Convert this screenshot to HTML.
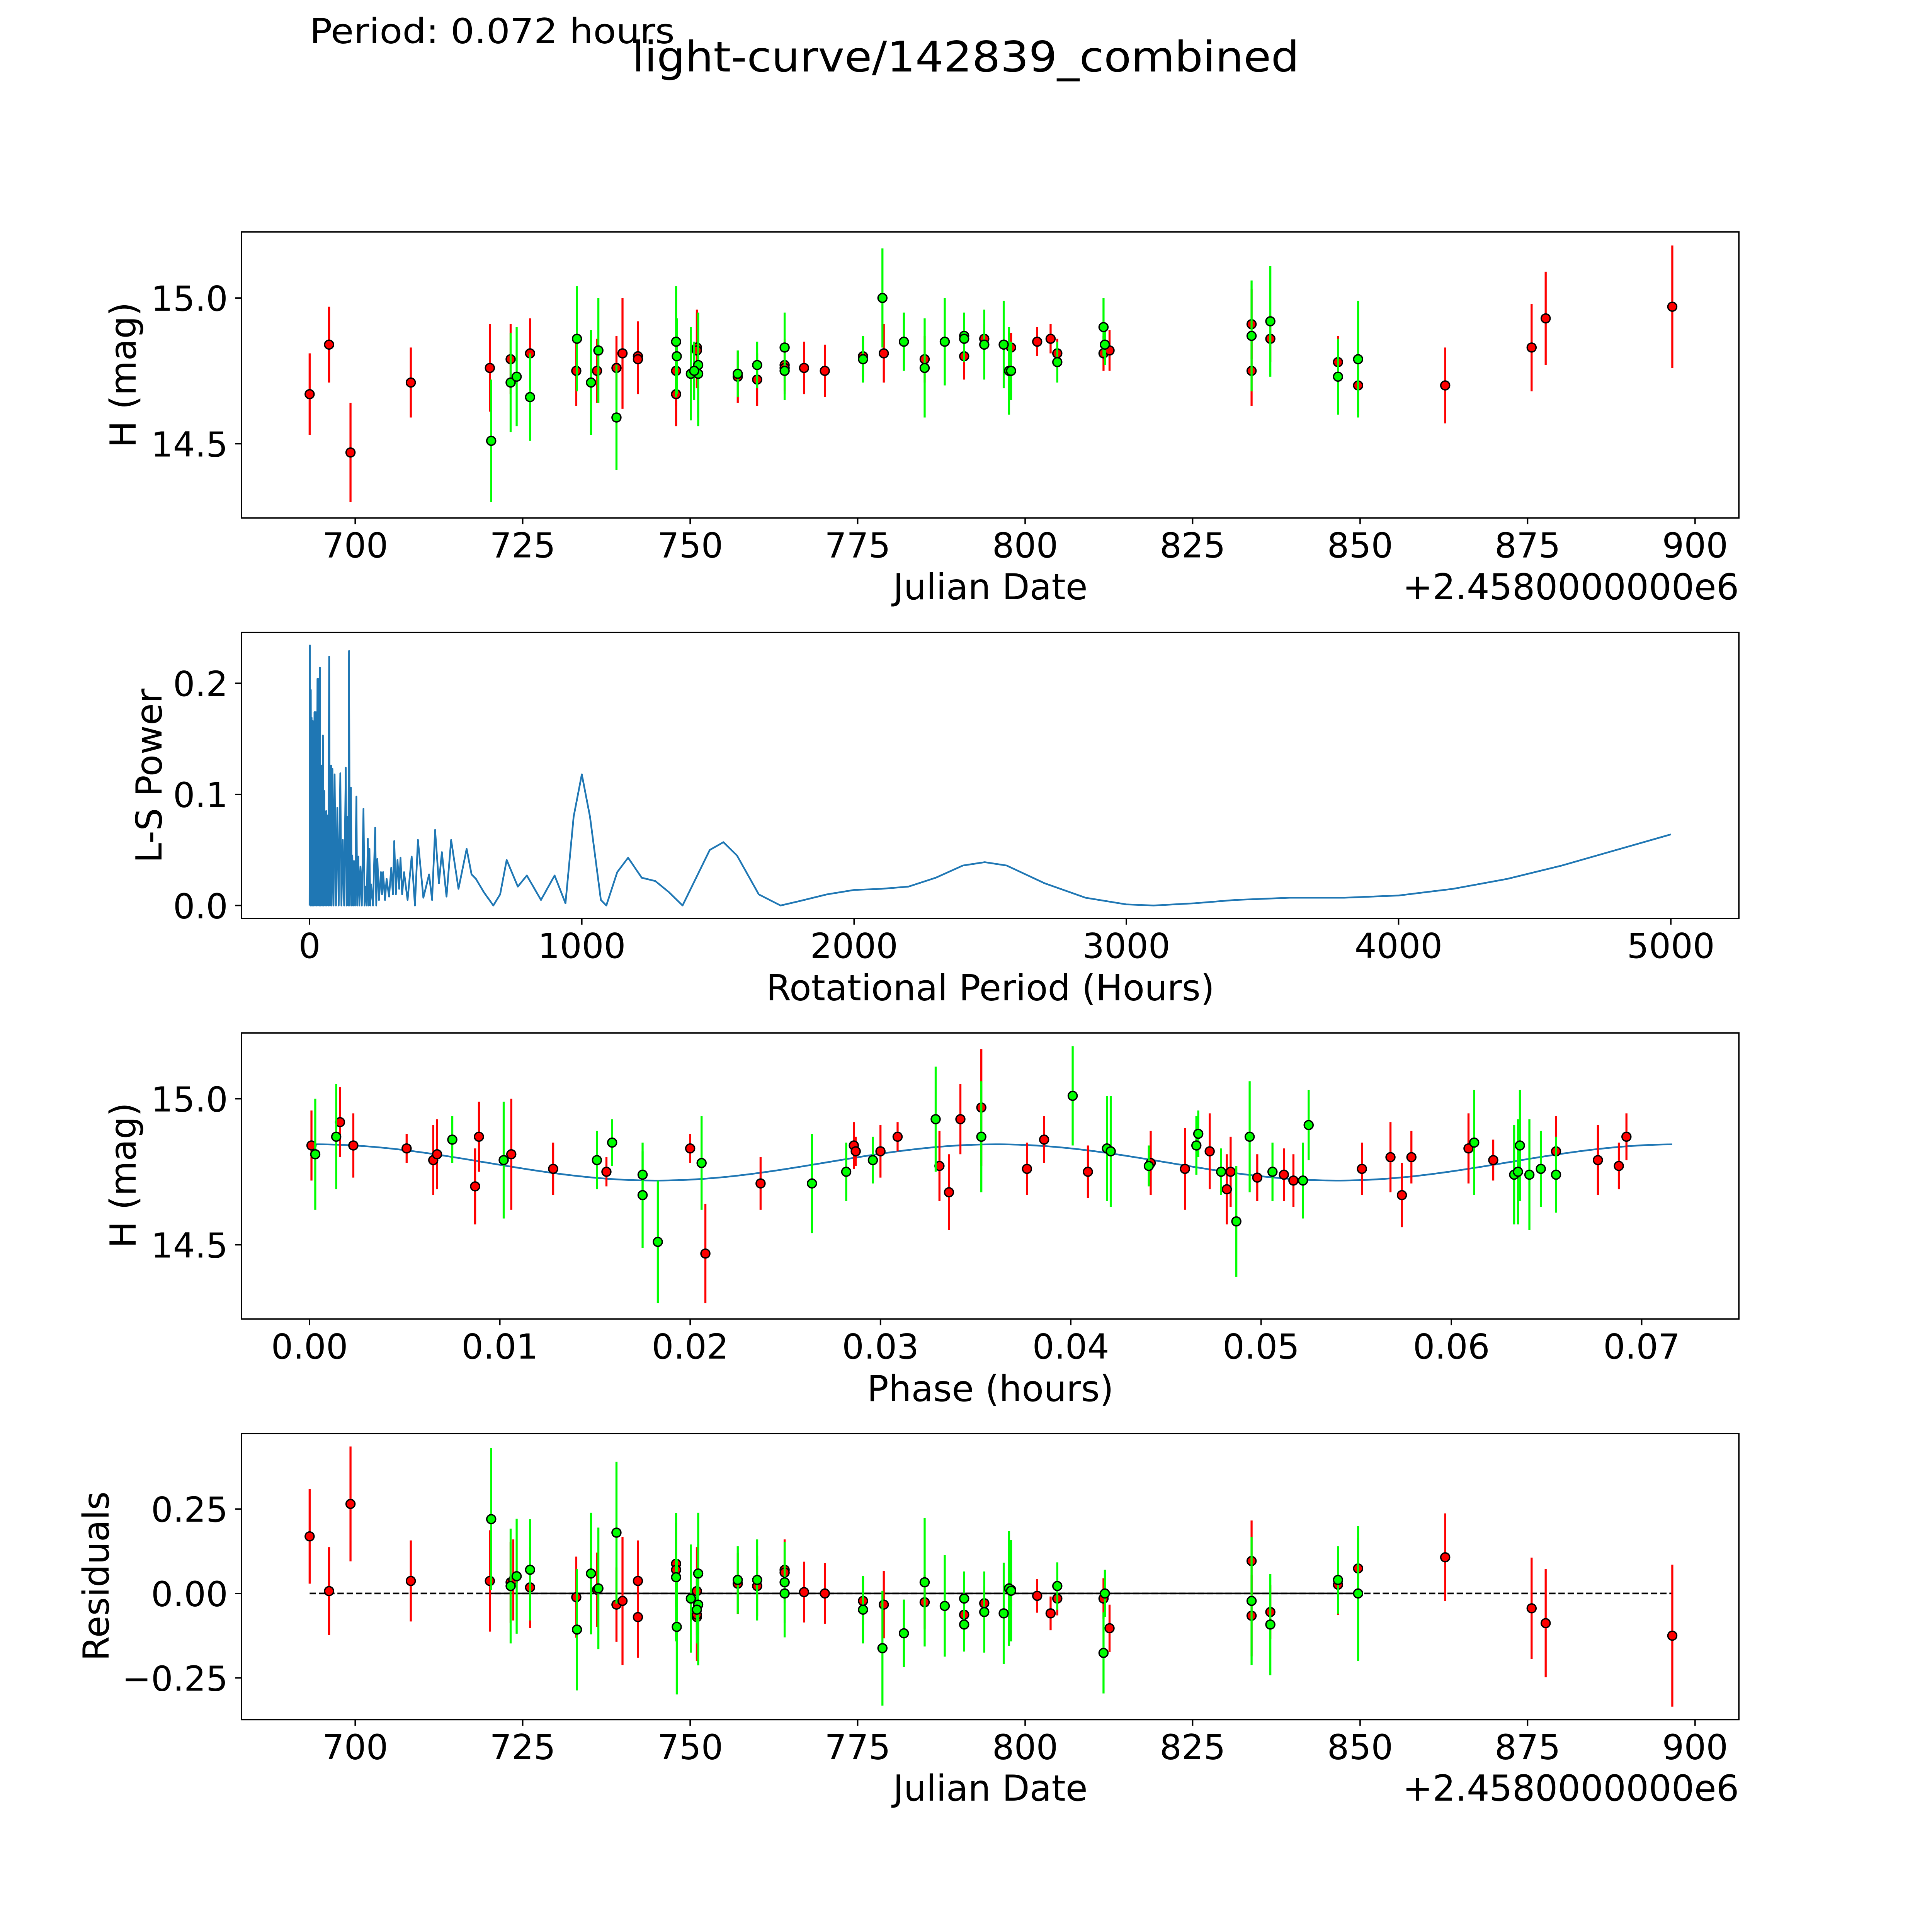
<!DOCTYPE html>
<html>
<head>
<meta charset="utf-8">
<style>
html,body{margin:0;padding:0;background:#fff;overflow:hidden;width:100vw;height:100vh;}
svg{display:block;position:fixed;left:0;top:0;width:100vw;height:100vh;}
text{font-family:"DejaVu Sans","Liberation Sans",sans-serif;fill:#000;}
</style>
</head>
<body>
<svg id="fig" xmlns="http://www.w3.org/2000/svg" viewBox="0 0 1566.5 1566.5" preserveAspectRatio="none">
<rect x="0" y="0" width="1566.5" height="1566.5" fill="#fff"/>
<text x="251" y="35" font-size="28" textLength="296" lengthAdjust="spacingAndGlyphs">Period: 0.072 hours</text>
<text x="783" y="58" font-size="34" text-anchor="middle" textLength="541" lengthAdjust="spacingAndGlyphs">light-curve/142839_combined</text>

<text x="803" y="486" font-size="29" text-anchor="middle">Julian Date</text>
<text x="1410" y="486" font-size="29" text-anchor="end">+2.4580000000e6</text>
<text transform="translate(110,304) rotate(-90)" font-size="29" text-anchor="middle">H (mag)</text>

<text x="803" y="811" font-size="29" text-anchor="middle">Rotational Period (Hours)</text>
<text transform="translate(131,629) rotate(-90)" font-size="29" text-anchor="middle">L-S Power</text>

<text x="803" y="1136" font-size="29" text-anchor="middle">Phase (hours)</text>
<text transform="translate(110,953) rotate(-90)" font-size="29" text-anchor="middle">H (mag)</text>

<text x="803" y="1460" font-size="29" text-anchor="middle">Julian Date</text>
<text x="1410" y="1460" font-size="29" text-anchor="end">+2.4580000000e6</text>
<text transform="translate(88,1278) rotate(-90)" font-size="29" text-anchor="middle">Residuals</text>
</svg>
<script>
// ---------- DATA ----------
const topRedDate = [693.2,696.1,699.3,708.3,720.1,723.2,726.1,733.0,736.1,739.0,739.9,742.2,742.2,747.9,747.9,751.0,751.0,757.1,760.0,764.1,764.1,767.0,770.1,775.8,778.9,785.0,790.9,793.9,797.9,801.8,803.8,804.8,811.7,812.6,833.8,833.8,836.6,846.7,849.7,862.7,875.6,877.7,896.6];
const topRedMag = [14.67,14.84,14.47,14.71,14.76,14.79,14.81,14.75,14.75,14.76,14.81,14.80,14.79,14.75,14.67,14.83,14.82,14.73,14.72,14.77,14.76,14.76,14.75,14.80,14.81,14.79,14.80,14.86,14.83,14.85,14.86,14.81,14.81,14.82,14.91,14.75,14.86,14.78,14.70,14.70,14.83,14.93,14.97];
const topRedErr = [0.14,0.13,0.17,0.12,0.15,0.12,0.12,0.12,0.11,0.11,0.19,0.12,0.12,0.12,0.11,0.13,0.13,0.09,0.09,0.09,0.09,0.09,0.09,0.07,0.10,0.08,0.08,0.05,0.05,0.05,0.05,0.05,0.06,0.07,0.12,0.12,0.08,0.09,0.09,0.13,0.15,0.16,0.21];
const topGreenDate = [720.3,723.2,724.1,726.1,733.1,735.2,736.3,739.0,747.9,748.0,750.1,751.2,751.2,750.6,757.1,760.0,764.1,764.1,775.8,778.7,781.9,785.0,788.0,790.9,790.9,793.9,796.8,797.6,797.9,804.8,811.7,811.9,833.8,836.6,846.7,849.7];
const topGreenMag = [14.51,14.71,14.73,14.66,14.86,14.71,14.82,14.59,14.85,14.80,14.74,14.77,14.74,14.75,14.74,14.77,14.83,14.75,14.79,15.00,14.85,14.76,14.85,14.87,14.86,14.84,14.84,14.75,14.75,14.78,14.90,14.84,14.87,14.92,14.73,14.79];
const topGreenErr = [0.21,0.17,0.17,0.15,0.18,0.18,0.18,0.18,0.19,0.13,0.16,0.18,0.18,0.10,0.08,0.08,0.12,0.10,0.08,0.17,0.10,0.17,0.15,0.08,0.08,0.12,0.15,0.15,0.10,0.07,0.10,0.07,0.19,0.19,0.13,0.20];

const lsPeriod = [0,1.5,3,4.5,6,7.5,10,12,15,18,20,23,26,29,31,34,36,38,41,44,46,49,51,54,57,61,63,66,69,72,75,79,81,84,88,92,97,102,107,113,117,122,127,133,136,139,142,145,148,152,155,157,160,163,167,172,175,179,183,187,192,198,202,206,210,214,217,220,223,226,233,241,245,249,255,262,266,270,277,283,292,300,306,311,317,323,329,334,340,347,360,375,387,398,418,439,450,461,475,486,503,520,547,577,595,611,640,675,700,724,765,798,850,900,940,970,1000,1030,1070,1090,1130,1170,1220,1270,1320,1370,1420,1470,1520,1570,1650,1730,1800,1900,2000,2100,2200,2300,2400,2480,2560,2700,2850,3000,3100,3250,3400,3600,3800,4000,4200,4400,4600,4800,5000];
const lsPower = [0,0.234,0,0.194,0,0.169,0,0.166,0,0.174,0,0.174,0,0.204,0,0.204,0,0.214,0,0.126,0,0.153,0,0.103,0,0.085,0,0.081,0,0.224,0,0.126,0,0.123,0,0.118,0,0.088,0,0.119,0,0.059,0,0.124,0,0.080,0,0.229,0,0.106,0,0.045,0,0.040,0,0.098,0,0.044,0,0.035,0,0.087,0,0.017,0,0.060,0,0.051,0,0.019,0,0.070,0,0.042,0.005,0.030,0.010,0.030,0.005,0.024,0.008,0.034,0.010,0.058,0.010,0.041,0.015,0.043,0.010,0.030,0.005,0.044,0.000,0.059,0.007,0.028,0.005,0.068,0.020,0.048,0.008,0.059,0.015,0.051,0.028,0.024,0.012,0.000,0.010,0.041,0.017,0.027,0.005,0.027,0.002,0.080,0.118,0.080,0.005,0.000,0.030,0.043,0.025,0.022,0.012,0.000,0.025,0.050,0.057,0.045,0.010,0.000,0.004,0.010,0.014,0.015,0.017,0.025,0.036,0.039,0.036,0.020,0.007,0.001,0.000,0.002,0.005,0.007,0.007,0.009,0.015,0.024,0.036,0.050,0.064];

const phRed = [0.0001,0.0016,0.0023,0.0051,0.0065,0.0067,0.0087,0.0089,0.0106,0.0128,0.0156,0.0200,0.0208,0.0237,0.0286,0.0287,0.0300,0.0309,0.0331,0.0336,0.0342,0.0353,0.0377,0.0386,0.0409,0.0442,0.0460,0.0473,0.0482,0.0484,0.0498,0.0512,0.0517,0.0553,0.0568,0.0574,0.0579,0.0609,0.0622,0.0655,0.0677,0.0688,0.0692];
const phRedMag = [14.84,14.92,14.84,14.83,14.79,14.81,14.70,14.87,14.81,14.76,14.75,14.83,14.47,14.71,14.84,14.82,14.82,14.87,14.77,14.68,14.93,14.97,14.76,14.86,14.75,14.78,14.76,14.82,14.69,14.75,14.73,14.74,14.72,14.76,14.80,14.67,14.80,14.83,14.79,14.82,14.79,14.77,14.87];
const phRedErr = [0.12,0.12,0.11,0.05,0.12,0.12,0.13,0.12,0.19,0.09,0.05,0.05,0.17,0.09,0.08,0.05,0.09,0.05,0.12,0.13,0.12,0.20,0.09,0.08,0.09,0.11,0.14,0.13,0.12,0.12,0.08,0.09,0.09,0.09,0.12,0.11,0.09,0.12,0.07,0.12,0.12,0.08,0.08];
const phGreen = [0.0003,0.0014,0.0075,0.0102,0.0151,0.0159,0.0175,0.0175,0.0183,0.0206,0.0264,0.0282,0.0296,0.0329,0.0353,0.0401,0.0419,0.0421,0.0441,0.0466,0.0467,0.0479,0.0487,0.0494,0.0506,0.0522,0.0525,0.0612,0.0633,0.0635,0.0636,0.0641,0.0647,0.0655];
const phGreenMag = [14.81,14.87,14.86,14.79,14.79,14.85,14.74,14.67,14.51,14.78,14.71,14.75,14.79,14.93,14.87,15.01,14.83,14.82,14.77,14.84,14.88,14.75,14.58,14.87,14.75,14.72,14.91,14.85,14.74,14.75,14.84,14.74,14.76,14.74];
const phGreenErr = [0.19,0.18,0.08,0.20,0.10,0.08,0.08,0.18,0.21,0.16,0.17,0.10,0.08,0.18,0.19,0.17,0.18,0.19,0.07,0.10,0.08,0.08,0.19,0.19,0.10,0.13,0.12,0.18,0.17,0.18,0.19,0.19,0.13,0.13];

const modelMean = 14.782;
const modelAmp = 0.062;
const modelHalfPeriod = 0.0358;
const modelPhase0 = 0.0003;
const modelPhaseEnd = 0.0716;

const resRedDate = [693.2,696.1,699.3,708.3,720.1,723.2,723.6,726.1,733.0,736.1,739.0,739.9,742.2,742.2,747.9,747.9,751.0,751.0,751.0,757.1,760.0,764.1,764.1,767.0,770.1,775.8,778.9,785.0,790.9,793.9,797.9,801.8,803.8,804.8,811.7,812.6,833.8,833.8,836.6,846.7,849.7,862.7,875.6,877.7,896.6];
const resRedVal = [0.169,0.007,0.265,0.037,0.037,0.033,0.040,0.018,-0.011,0.011,-0.033,-0.022,0.037,-0.070,0.088,0.070,0.007,-0.070,-0.063,0.029,0.022,0.070,0.062,0.004,0.000,-0.022,-0.033,-0.026,-0.063,-0.029,0.011,-0.007,-0.059,-0.015,-0.015,-0.103,0.096,-0.066,-0.055,0.026,0.074,0.107,-0.044,-0.088,-0.125];
const resRedErr = [0.14,0.13,0.17,0.12,0.15,0.12,0.12,0.12,0.12,0.11,0.11,0.19,0.12,0.12,0.12,0.11,0.13,0.13,0.13,0.09,0.09,0.09,0.09,0.09,0.09,0.07,0.10,0.08,0.08,0.05,0.05,0.05,0.05,0.05,0.06,0.07,0.12,0.12,0.08,0.09,0.09,0.13,0.15,0.16,0.21];
const resGreenDate = [720.3,723.2,724.1,726.1,733.1,735.2,736.3,739.0,747.9,748.0,750.1,751.2,751.2,751.0,757.1,760.0,764.1,764.1,775.8,778.7,781.9,785.0,788.0,790.9,790.9,793.9,796.8,797.6,797.9,804.8,811.7,811.9,833.8,836.6,846.7,849.7];
const resGreenVal = [0.220,0.022,0.051,0.070,-0.107,0.059,0.015,0.180,0.048,-0.099,-0.015,0.059,-0.033,-0.048,0.040,0.040,0.033,0.000,-0.048,-0.162,-0.118,0.033,-0.037,-0.015,-0.092,-0.055,-0.059,0.015,0.008,0.022,-0.176,0.000,-0.022,-0.092,0.040,0.000];
const resGreenErr = [0.21,0.17,0.17,0.15,0.18,0.18,0.18,0.21,0.19,0.20,0.16,0.18,0.18,0.10,0.10,0.12,0.12,0.13,0.10,0.17,0.10,0.19,0.15,0.08,0.08,0.12,0.15,0.17,0.15,0.07,0.12,0.07,0.19,0.15,0.10,0.20];

const dateTicks = [700,725,750,775,800,825,850,875,900];
const dateTickLabels = ["700","725","750","775","800","825","850","875","900"];
const magTicks = [14.5,15.0];
const magTickLabels = ["14.5","15.0"];
const periodTicks = [0,1000,2000,3000,4000,5000];
const periodTickLabels = ["0","1000","2000","3000","4000","5000"];
const powerTicks = [0,0.1,0.2];
const powerTickLabels = ["0.0","0.1","0.2"];
const phaseTicks = [0,0.01,0.02,0.03,0.04,0.05,0.06,0.07];
const phaseTickLabels = ["0.00","0.01","0.02","0.03","0.04","0.05","0.06","0.07"];
const resTicks = [-0.25,0,0.25];
const resTickLabels = ["\u22120.25","0.00","0.25"];

// ---------- LAYOUT / SCALES ----------
const NS = "http://www.w3.org/2000/svg";
const svg = document.getElementById('fig');
const AX_L = 195.8, AX_R = 1409.9;
const rows = [[188.0,420.0],[512.8,744.7],[837.5,1069.5],[1162.3,1394.3]];
const xD = d => 288 + (d - 700) * 5.432;
const yM = m => 241.6 - (m - 15) * 236.4;
const xP = p => 251.0 + p * 0.22075;
const yP = v => 734.2 - v * 901;
const xF = f => 251.0 + f * 15430;
const yF = m => 890.9 - (m - 15) * 236.8;
const yR = r => 1292.0 - r * 273.9;

function mk(tag, attrs, parent) {
  const e = document.createElementNS(NS, tag);
  for (const k in attrs) e.setAttribute(k, attrs[k]);
  parent.appendChild(e);
  return e;
}

const defs = mk('defs', {}, svg);
rows.forEach((r, i) => {
  const cp = mk('clipPath', {id: 'clip' + i}, defs);
  mk('rect', {x: AX_L, y: r[0], width: AX_R - AX_L, height: r[1] - r[0]}, cp);
});

function panel(i, name) {
  const g = mk('g', {}, svg);
  
  
  return g;
}

function frame(g, i, name) {
  const r = rows[i];
  const f = mk('rect', {x: AX_L, y: r[0], width: AX_R - AX_L, height: r[1] - r[0], fill: 'none', stroke: '#000', 'stroke-width': 1.15}, g);
  
  
}

function xTicks(g, i, vals, labels, sx, prefix) {
  const yb = rows[i][1];
  vals.forEach((v, k) => {
    const x = sx(v);
    const t = mk('line', {x1: x, x2: x, y1: yb, y2: yb + 5, stroke: '#000', 'stroke-width': 1.15}, g);
    
    
    const tx = mk('text', {x: x, y: yb + 32, 'font-size': 28, 'text-anchor': 'middle'}, g);
    tx.textContent = labels[k];
    
    
  });
}

function yTicks(g, vals, labels, sy, prefix) {
  vals.forEach((v, k) => {
    const y = sy(v);
    const t = mk('line', {x1: AX_L - 5, x2: AX_L, y1: y, y2: y, stroke: '#000', 'stroke-width': 1.15}, g);
    
    
    const tx = mk('text', {x: AX_L - 11, y: y + 10.3, 'font-size': 28, 'text-anchor': 'end'}, g);
    tx.textContent = labels[k];
    
    
  });
}

function errScatter(g, i, xs, ys, es, sx, sy, color, name) {
  const sg = mk('g', {'clip-path': 'url(#clip' + i + ')'}, g);
  
  
  xs.forEach((xv, k) => {
    const x = sx(xv);
    const l = mk('line', {x1: x, x2: x, y1: sy(ys[k] - es[k]), y2: sy(ys[k] + es[k]), stroke: color, 'stroke-width': 1.66}, sg);
    
    
  });
  xs.forEach((xv, k) => {
    const c = mk('circle', {cx: sx(xv), cy: sy(ys[k]), r: 3.6, fill: color, stroke: '#000', 'stroke-width': 1.1}, sg);
    
    
  });
}

// ---------- PANEL 1: light curve ----------
const g1 = panel(0, 'light-curve-panel');
errScatter(g1, 0, topRedDate, topRedMag, topRedErr, xD, yM, '#ff0000', 'light-curve-red-series');
errScatter(g1, 0, topGreenDate, topGreenMag, topGreenErr, xD, yM, '#00ff00', 'light-curve-green-series');
frame(g1, 0, 'light-curve-axes-frame');
xTicks(g1, 0, dateTicks, dateTickLabels, xD, 'light-curve');
yTicks(g1, magTicks, magTickLabels, yM, 'light-curve');

// ---------- PANEL 2: periodogram ----------
const g2 = panel(1, 'periodogram-panel');
const pts = lsPeriod.map((p, k) => xP(p).toFixed(2) + ',' + yP(lsPower[k]).toFixed(2)).join(' ');
const pl = mk('polyline', {points: pts, fill: 'none', stroke: '#1f77b4', 'stroke-width': 1.4, 'stroke-linejoin': 'round', 'clip-path': 'url(#clip1)'}, g2);


frame(g2, 1, 'periodogram-axes-frame');
xTicks(g2, 1, periodTicks, periodTickLabels, xP, 'periodogram');
yTicks(g2, powerTicks, powerTickLabels, yP, 'periodogram');

// ---------- PANEL 3: phase-folded ----------
const g3 = panel(2, 'phase-panel');
const mpts = [];
for (let k = 0; k <= 300; k++) {
  const f = modelPhaseEnd * k / 300;
  const m = modelMean + modelAmp * Math.cos(2 * Math.PI * (f - modelPhase0) / modelHalfPeriod);
  mpts.push(xF(f).toFixed(2) + ',' + yF(m).toFixed(2));
}
const ml = mk('polyline', {points: mpts.join(' '), fill: 'none', stroke: '#1f77b4', 'stroke-width': 1.4, 'clip-path': 'url(#clip2)'}, g3);


errScatter(g3, 2, phRed, phRedMag, phRedErr, xF, yF, '#ff0000', 'phase-red-series');
errScatter(g3, 2, phGreen, phGreenMag, phGreenErr, xF, yF, '#00ff00', 'phase-green-series');
frame(g3, 2, 'phase-axes-frame');
xTicks(g3, 2, phaseTicks, phaseTickLabels, xF, 'phase');
yTicks(g3, magTicks, magTickLabels, yF, 'phase');

// ---------- PANEL 4: residuals ----------
const g4 = panel(3, 'residual-panel');
const allRes = resRedDate.concat(resGreenDate);
const dl = mk('line', {x1: xD(Math.min(...allRes)), x2: xD(Math.max(...allRes)), y1: yR(0), y2: yR(0), stroke: '#000', 'stroke-width': 1.4, 'stroke-dasharray': '5.2,2.3'}, g4);


const sl = mk('line', {x1: xD(Math.min(...resGreenDate)), x2: xD(Math.max(...resGreenDate)), y1: yR(0), y2: yR(0), stroke: '#000', 'stroke-width': 1.4}, g4);


errScatter(g4, 3, resRedDate, resRedVal, resRedErr, xD, yR, '#ff0000', 'residual-red-series');
errScatter(g4, 3, resGreenDate, resGreenVal, resGreenErr, xD, yR, '#00ff00', 'residual-green-series');
frame(g4, 3, 'residual-axes-frame');
xTicks(g4, 3, dateTicks, dateTickLabels, xD, 'residual');
yTicks(g4, resTicks, resTickLabels, yR, 'residual');
</script>
</body>
</html>
